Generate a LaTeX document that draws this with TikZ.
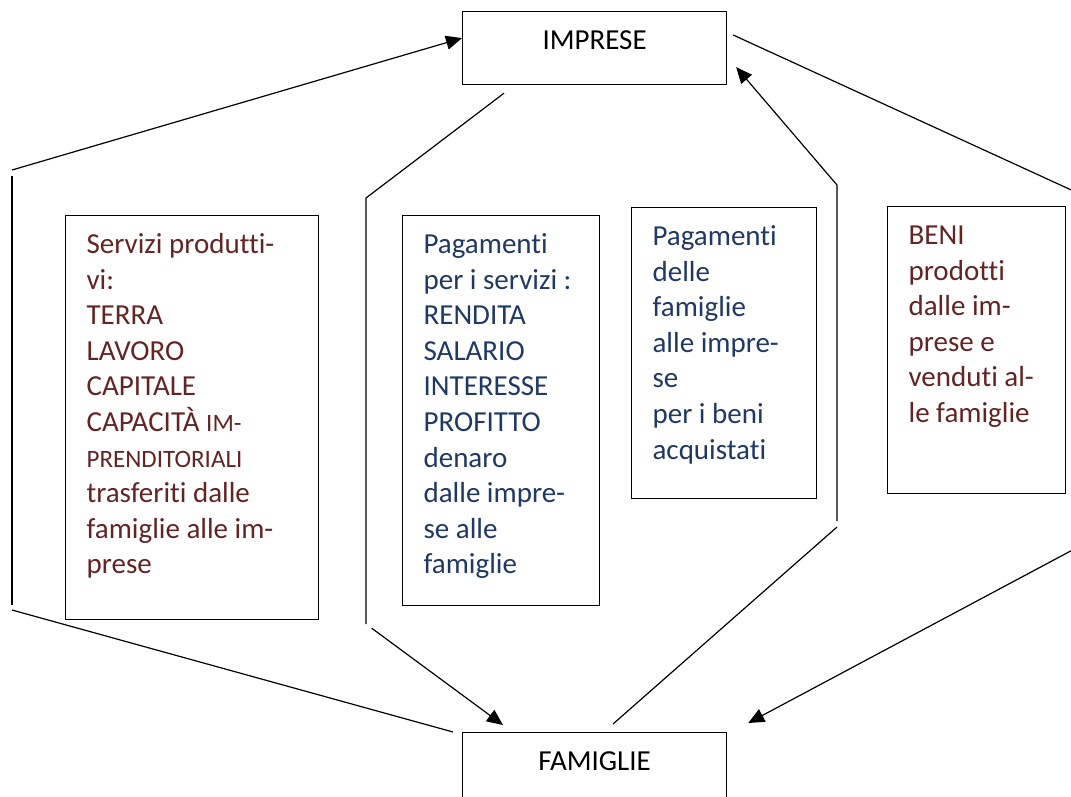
\documentclass[tikz,border=0pt]{standalone}
\usepackage{fontspec}
\setmainfont[Ligatures={NoCommon}]{Carlito}
\usetikzlibrary{arrows.meta}
\definecolor{rossotesto}{HTML}{632423}
\definecolor{blutesto}{HTML}{1F3864}

\begin{document}
\begin{tikzpicture}[x=1pt, y=-1pt, line width=1.2pt,
    flusso/.style={-{Triangle[length=16pt,width=14pt]}},
    settore/.style={draw, anchor=north west, inner xsep=21pt, inner ysep=13pt,
        font=\fontsize{29}{35.6}\selectfont},
    riquadro/.style={draw, anchor=north west, inner xsep=21pt, inner ysep=13pt,
        font=\fontsize{29}{35.6}\selectfont}]
    \useasboundingbox (0,0) rectangle (1071,796);
    \clip (0,0) rectangle (1071,796);

    % Settori
    \node[settore] (impr) at (462,11) {\parbox[t][47pt][t]{222pt}{\centering\strut IMPRESE}};
    \node[settore] (fam) at (462,732) {\parbox[t][47pt][t]{222pt}{\centering\strut FAMIGLIE}};

    % Riquadri di testo
    \node[riquadro, text=rossotesto] (servizi) at (65,215) {\parbox[t][378pt][t]{211pt}{\raggedright\strut
        Servizi produtti-\\ vi:\\ TERRA\\ LAVORO\\ CAPITALE\\
        CAPACITÀ {\fontsize{25}{35.6}\selectfont IM-}\\
        {\fontsize{25}{35.6}\selectfont PRENDITORIALI}\\
        trasferiti dalle\\ famiglie alle im-\\ prese}};
    \node[riquadro, text=blutesto] (redditi) at (402,215) {\parbox[t][364pt][t]{155pt}{\raggedright\strut
        Pagamenti\\ per i servizi :\\ RENDITA\\ SALARIO\\ INTERESSE\\ PROFITTO\\
        denaro\\ dalle impre-\\ se alle\\ famiglie}};
    \node[riquadro, text=blutesto] (spesa) at (631,207) {\parbox[t][265pt][t]{143pt}{\raggedright\strut
        Pagamenti\\ delle\\ famiglie\\ alle impre-\\ se\\ per i beni\\ acquistati}};
    \node[riquadro, text=rossotesto] (beni) at (887,206) {\parbox[t][261pt][t]{136pt}{\raggedright\strut
        BENI\\ prodotti\\ dalle im-\\ prese e\\ venduti al-\\ le famiglie}};

    % Punti di svolta
    \coordinate (sxalto) at (12,170);
    \coordinate (sxbasso) at (12,610);
    \coordinate (cxalto) at (366,198);
    \coordinate (cxbasso) at (366,624);
    \coordinate (cdalto) at (837,185);
    \coordinate (cdbasso) at (837,527);
    \coordinate (dxalto) at (1080,194);
    \coordinate (dxbasso) at (1080,546);

    % Flusso esterno sinistro
    \draw ([xshift=-9pt]fam.north west) -- (sxbasso);
    \draw[shorten <=5pt, shorten >=6pt] (sxbasso) -- (sxalto);
    \draw[flusso] (sxalto) -- ([yshift=10pt]impr.west);

    % Flusso interno sinistro
    \draw ([shift={(42,8)}]impr.south west) -- (cxalto) -- (cxbasso);
    \draw[flusso, shorten <=7pt] (cxbasso) -- ([shift={(41,-7)}]fam.north west);

    % Flusso interno destro
    \draw ([shift={(151,-8)}]fam.north west) -- (cdbasso);
    \draw[flusso, shorten <=6pt] (cdbasso) -- (cdalto) -- ([shift={(9,-18)}]impr.south east);

    % Flusso esterno destro
    \draw ([shift={(6,24)}]impr.north east) -- (dxalto);
    \draw[flusso] (dxbasso) -- ([shift={(21,-9)}]fam.north east);
\end{tikzpicture}
\end{document}
